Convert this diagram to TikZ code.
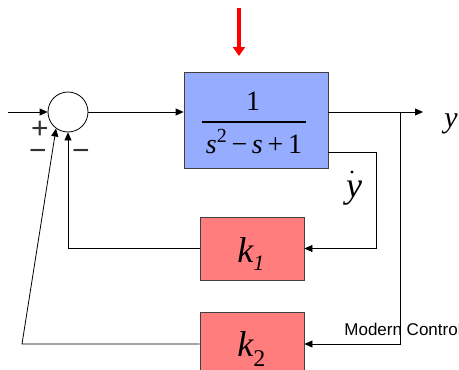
\documentclass[tikz,border=0pt]{standalone}
\usepackage{fontspec}
\setmainfont{Liberation Serif}
\newfontfamily\arialf{Liberation Sans}
\usetikzlibrary{arrows.meta}
\definecolor{bluef}{RGB}{150,172,255}
\definecolor{redf}{RGB}{255,125,125}
\begin{document}
\begin{tikzpicture}[x=1pt,y=-1pt,line width=0.8pt,
  blk/.style={draw=black!75,line width=0.8pt,inner sep=0pt},
  arr/.style={-{Triangle[length=8pt,width=7pt]}},
  lbl/.style={inner sep=0pt,font=\fontsize{36}{36}\selectfont\itshape},
  sgn/.style={inner sep=0pt,anchor=base,text height=16pt,text depth=0pt,
    font=\arialf\fontsize{30}{30}\selectfont\color{black!80}}]
\useasboundingbox (0,0) rectangle (459,370);
\clip (0,0) rectangle (459,370);
% blocks
\node[draw=black,circle,minimum size=40pt,inner sep=0pt] (sum) at (68,112) {};
\node[blk,fill=bluef,minimum width=144pt,minimum height=96pt] (plant) at (256,120) {};
\node[blk,fill=redf,minimum width=104pt,minimum height=63pt] (k1) at (252,248.5) {};
\node[blk,fill=redf,minimum width=104pt,minimum height=64pt] (k2) at (252,344) {};
% plant text
\node[inner sep=0pt,font=\fontsize{28}{28}\selectfont] (num) at (253,101.5) {1};
\draw[line width=1.2pt] (202,122) -- (306,122);
\node[inner sep=0pt,anchor=base,font=\fontsize{28}{28}\selectfont] (den) at (254,153)
  {\textit{s}\raisebox{11pt}{\fontsize{20}{20}\selectfont 2}\,−\,\textit{s}\,+\,1};
% gain labels
\node[lbl,anchor=base west] (k1t) at (237,262) {k\raisebox{-8pt}{\fontsize{22}{22}\selectfont\itshape 1}};
\node[lbl,anchor=base west] (k2t) at (237,356) {k\raisebox{-10pt}{\fontsize{24}{24}\selectfont\upshape 2}};
% ydot and y
\node[lbl,anchor=base] (yd) at (354,197) {y};
\fill (352,172) circle (1.6pt);
\node[inner sep=0pt,anchor=base,font=\fontsize{30}{30}\selectfont\itshape] (yo) at (451,127) {y};
% signs
\node[sgn] (plus) at (40,138.5) {+};
\node[sgn] (m1) at (38,160.5) {−};
\node[sgn] (m2) at (81,160.5) {−};
% coordinates
\coordinate (in) at (8,112);
\coordinate (out) at (423,112);
\coordinate (br) at (400,112);
\coordinate (yb) at (376,152);
\coordinate (yl) at (22,344);
% connectors
\draw[arr] (in) -- (sum.west);
\draw[arr] (sum.east) -- (plant.west |- sum.east);
\draw[arr] (plant.east |- sum.east) -- (out);
\draw[arr] (br) -- (br |- k2.east) -- (k2.east);
\draw[arr] (plant.east |- yb) -- (yb) -- (yb |- k1.east) -- (k1.east);
\draw[arr] (k1.west) -- (sum.south |- k1.west) -- (sum.south);
\draw[arr] (k2.west |- yl) -- (yl) -- (sum.234);
% disturbance
\coordinate (dtop) at (239,8);
\coordinate (dtip) at (239,56);
\draw[red,line width=4pt,-{Triangle[length=9pt,width=12pt]}] (dtop) -- (dtip);
% footer text
\node[inner sep=0pt,anchor=base west,font=\arialf\fontsize{17}{17}\selectfont] (foot) at (344,335) {Modern Control};
\end{tikzpicture}
\end{document}
